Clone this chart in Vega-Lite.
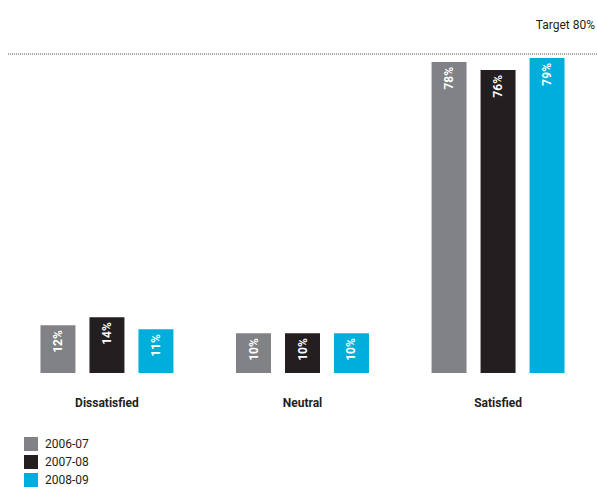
{
  "$schema": "https://vega.github.io/schema/vega-lite/v6.json",
  "width": 589,
  "height": 319,
  "autosize": "none",
  "padding": {"left": 8, "top": 54, "right": 0, "bottom": 114},
  "background": "white",
  "config": {
    "view": {"stroke": null},
    "font": "Roboto"
  },
  "datasets": {
    "bars": [
      {"category": "Dissatisfied", "year": "2006-07", "value": 0.12},
      {"category": "Dissatisfied", "year": "2007-08", "value": 0.14},
      {"category": "Dissatisfied", "year": "2008-09", "value": 0.11},
      {"category": "Neutral", "year": "2006-07", "value": 0.10},
      {"category": "Neutral", "year": "2007-08", "value": 0.10},
      {"category": "Neutral", "year": "2008-09", "value": 0.10},
      {"category": "Satisfied", "year": "2006-07", "value": 0.78},
      {"category": "Satisfied", "year": "2007-08", "value": 0.76},
      {"category": "Satisfied", "year": "2008-09", "value": 0.79}
    ],
    "target": [{"target": 0.8, "label": "Target 80%"}]
  },
  "layer": [
    {
      "data": {"name": "bars"},
      "mark": {"type": "bar"},
      "encoding": {
        "x": {
          "field": "category", "type": "nominal",
          "sort": ["Dissatisfied", "Neutral", "Satisfied"],
          "scale": {"paddingInner": 0.32, "paddingOuter": 0.166},
          "axis": {"title": null, "domain": false, "ticks": false, "labelAngle": 0,
                   "labelFontWeight": "bold", "labelFontSize": 12, "labelPadding": 24,
                   "labelColor": "#231f20"}
        },
        "xOffset": {
          "field": "year", "type": "nominal",
          "scale": {"paddingInner": 0.286, "paddingOuter": 0}
        },
        "y": {
          "field": "value", "type": "quantitative",
          "scale": {"domain": [0, 0.8], "nice": false},
          "axis": null
        },
        "color": {
          "field": "year", "type": "nominal",
          "scale": {"domain": ["2006-07", "2007-08", "2008-09"], "range": ["#808285", "#231f20", "#00aedb"]},
          "legend": {
            "title": null, "orient": "none", "legendX": 16, "legendY": 383,
            "direction": "vertical", "symbolType": "square", "symbolSize": 196,
            "symbolStrokeWidth": 0, "rowPadding": 4, "labelFontSize": 12,
            "labelColor": "#231f20", "labelOffset": 7, "padding": 0
          }
        }
      }
    },
    {
      "data": {"name": "bars"},
      "mark": {"type": "text", "angle": 270, "align": "right", "baseline": "middle", "dx": -5,
               "color": "white", "fontWeight": "bold", "fontSize": 12},
      "encoding": {
        "x": {"field": "category", "type": "nominal", "sort": ["Dissatisfied", "Neutral", "Satisfied"]},
        "xOffset": {"field": "year", "type": "nominal"},
        "y": {"field": "value", "type": "quantitative"},
        "text": {"field": "value", "type": "quantitative", "format": ".0%"},
        "detail": {"field": "year"}
      }
    },
    {
      "data": {"name": "target"},
      "mark": {"type": "rule", "strokeDash": [1, 1], "color": "#555555", "strokeWidth": 1},
      "encoding": {"y": {"field": "target", "type": "quantitative"}}
    },
    {
      "data": {"name": "target"},
      "mark": {"type": "text", "align": "right", "baseline": "alphabetic", "dy": -25, "dx": -2,
               "fontSize": 12, "color": "#231f20"},
      "encoding": {
        "y": {"field": "target", "type": "quantitative"},
        "x": {"value": "width"},
        "text": {"field": "label"}
      }
    }
  ]
}
